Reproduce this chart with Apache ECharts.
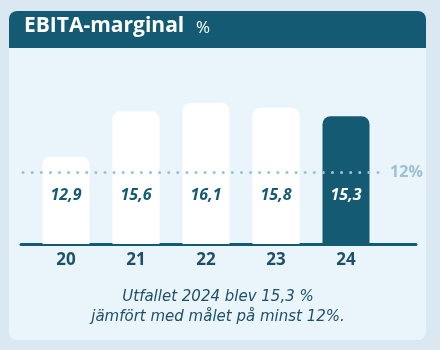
<!DOCTYPE html>
<html><head><meta charset="utf-8">
<script src="https://cdn.jsdelivr.net/npm/echarts@6/dist/echarts.min.js"></script>
<style>html,body{margin:0;padding:0;background:#dce8f1;}#c{width:440px;height:350px;}</style>
</head><body><div id="c"></div>
<script>
var categories = ['20', '21', '22', '23', '24'];
var values = [12.9, 15.6, 16.1, 15.8, 15.3];
var target = 12;
var titleText = 'EBITA-marginal';
var unitText = '%';
var footer = ['Utfallet 2024 blev 15,3 %', 'jämfört med målet på minst 12%.'];

var dark = '#135a72';
var FONT = '"Open Sans", sans-serif';
var chart = echarts.init(document.getElementById('c'), null, {renderer: 'canvas'});
var data = values.map(function (v, i) {
  var last = i === values.length - 1;
  return {
    value: [i, v],
    itemStyle: {color: last ? dark : '#ffffff'},
    label: {color: last ? '#ffffff' : dark}
  };
});
chart.setOption({
  backgroundColor: '#dce8f1',
  animation: false,
  graphic: [
    {type: 'rect', shape: {x: 9, y: 11, width: 417, height: 329, r: 8}, style: {fill: '#eaf5fb'}, z: -10},
    {type: 'rect', shape: {x: 9, y: 11, width: 417, height: 37, r: [8, 8, 0, 0]}, style: {fill: dark}, z: -9},
    {type: 'text', left: 24, top: 16, style: {text: titleText, font: 'bold 21px ' + FONT, fill: '#ffffff'}},
    {type: 'text', left: 196, top: 20, style: {text: unitText, font: '17px ' + FONT, fill: '#ffffff'}},
    {type: 'text', x: 218, y: 297, style: {text: footer[0], font: 'italic 15px "DejaVu Sans", sans-serif', fill: '#1d4f6b', textAlign: 'center', textVerticalAlign: 'middle'}},
    {type: 'text', x: 218, y: 317, style: {text: footer[1], font: 'italic 15px "DejaVu Sans", sans-serif', fill: '#1d4f6b', textAlign: 'center', textVerticalAlign: 'middle'}}
  ],
  grid: {left: 21, right: 24, top: 70.6, bottom: 106},
  xAxis: {
    type: 'value', min: -0.643, max: 5,
    splitLine: {show: false},
    axisLine: {show: true, lineStyle: {color: dark, width: 3}},
    axisTick: {show: false},
    axisLabel: {
      customValues: [0, 1, 2, 3, 4],
      formatter: function (v) { return categories[Math.round(v)]; },
      color: '#1d4f6b', fontWeight: 'bold', fontSize: 17, fontFamily: FONT, margin: 8
    }
  },
  yAxis: {type: 'value', min: 7.74, max: 18, show: false, splitLine: {show: false}},
  series: [{
    type: 'bar',
    data: data,
    barWidth: 47,
    itemStyle: {borderRadius: [8, 8, 0, 0]},
    label: {
      show: true, position: 'insideBottom', distance: 41,
      formatter: function (p) { return String(p.value[1]).replace('.', ','); },
      fontSize: 16, fontWeight: 'bold', fontStyle: 'italic', fontFamily: FONT
    },
    markLine: {
      symbol: 'none', silent: true, z: 20,
      lineStyle: {color: '#9dc0d6', type: [0.1, 9], cap: 'round', width: 3, opacity: 1},
      label: {show: true, position: 'end', distance: 7, formatter: target + '%', color: '#9dc0d6', fontWeight: 'bold', fontSize: 16, fontFamily: FONT},
      data: [[{coord: [-0.614, target]}, {coord: [4.53, target]}]]
    }
  }]
});
</script></body></html>
